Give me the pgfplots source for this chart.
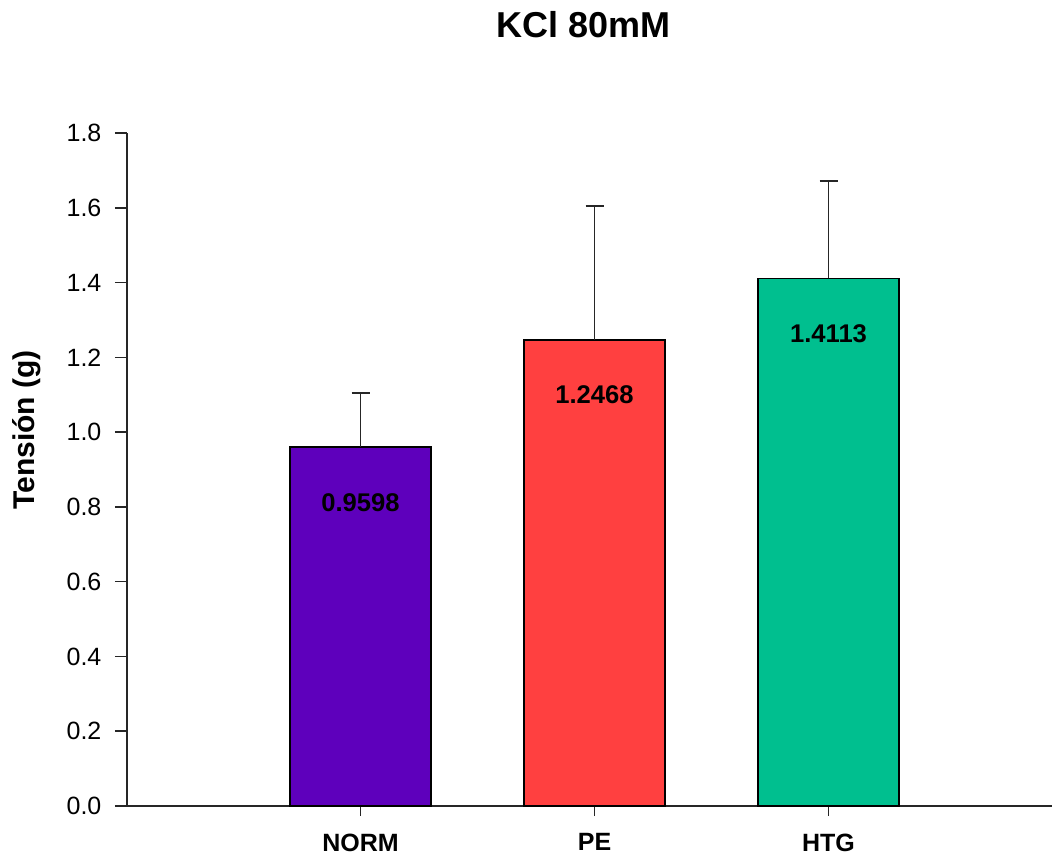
\documentclass[border=0pt]{standalone}
\usepackage{pgfplots}
\pgfplotsset{compat=1.18}
\usepackage{pgfplotstable}
\usepackage{fontspec}
\setmainfont{Liberation Sans}
\usetikzlibrary{calc}
\definecolor{cnorm}{RGB}{94,0,188}
\definecolor{cpe}{RGB}{255,64,64}
\definecolor{chtg}{RGB}{0,191,143}
\pgfplotstableread{
x y err lab
0 0.9598 0.1456 0.9598
}\tnorm
\pgfplotstableread{
x y err lab
1 1.2468 0.3580 1.2468
}\tpe
\pgfplotstableread{
x y err lab
2 1.4113 0.2611 1.4113
}\thtg
\newcommand{\tickfont}{\fontsize{12.5}{15}\selectfont}
\begin{document}
\begin{tikzpicture}
\begin{axis}[
  scale only axis, width=462.5pt, height=336.5pt,
  xmin=-0.998, xmax=2.955, ymin=0, ymax=1.8,
  clip=false,
  axis x line*=bottom, axis y line*=left,
  axis line style={line width=0.75pt, black!85},
  tick align=outside,
  tick style={line width=0.75pt, black!85},
  xtick={0,1,2}, xticklabels={NORM,PE,HTG},
  xtick style={/pgfplots/major tick length=5pt},
  ytick style={/pgfplots/major tick length=6pt},
  ytick={0,0.2,0.4,0.6,0.8,1.0,1.2,1.4,1.6,1.8},
  yticklabel style={font=\tickfont, xshift=-5pt, /pgf/number format/.cd, fixed, fixed zerofill, precision=1, assume math mode=true},
  xticklabel style={font=\tickfont\bfseries, yshift=-6pt},
  ybar, bar width=0.603, bar shift=0pt,
  every axis plot/.append style={draw=black, line width=0.75pt},
  error bars/y dir=plus, error bars/y explicit,
  error bars/error bar style={line width=0.9pt, black!85},
  error bars/error mark options={rotate=90, mark size=4.5pt, line width=0.9pt, black!85},
  nodes near coords, point meta=explicit symbolic,
  every node near coord/.append style={anchor=base, yshift=-32pt, font=\fontsize{12.8}{15}\selectfont\bfseries, text=black},
]
\addplot[fill=cnorm] table[x=x, y=y, y error=err, meta=lab] {\tnorm};
\addplot[fill=cpe] table[x=x, y=y, y error=err, meta=lab] {\tpe};
\addplot[fill=chtg] table[x=x, y=y, y error=err, meta=lab] {\thtg};
\coordinate (O) at (rel axis cs:0,0);
\end{axis}
\node[anchor=base, font=\fontsize{18}{22}\selectfont\bfseries] at ($(O)+(228.25pt,384pt)$) {KCl 80mM};
\node[anchor=base, rotate=90, font=\fontsize{15}{18}\selectfont\bfseries] at ($(O)+(-46pt,188pt)$) {Tensión (g)};
\pgfresetboundingbox
\path[use as bounding box] ($(O)+(-63.5pt,-27pt)$) rectangle ++(526pt,430pt);
\end{tikzpicture}
\end{document}
